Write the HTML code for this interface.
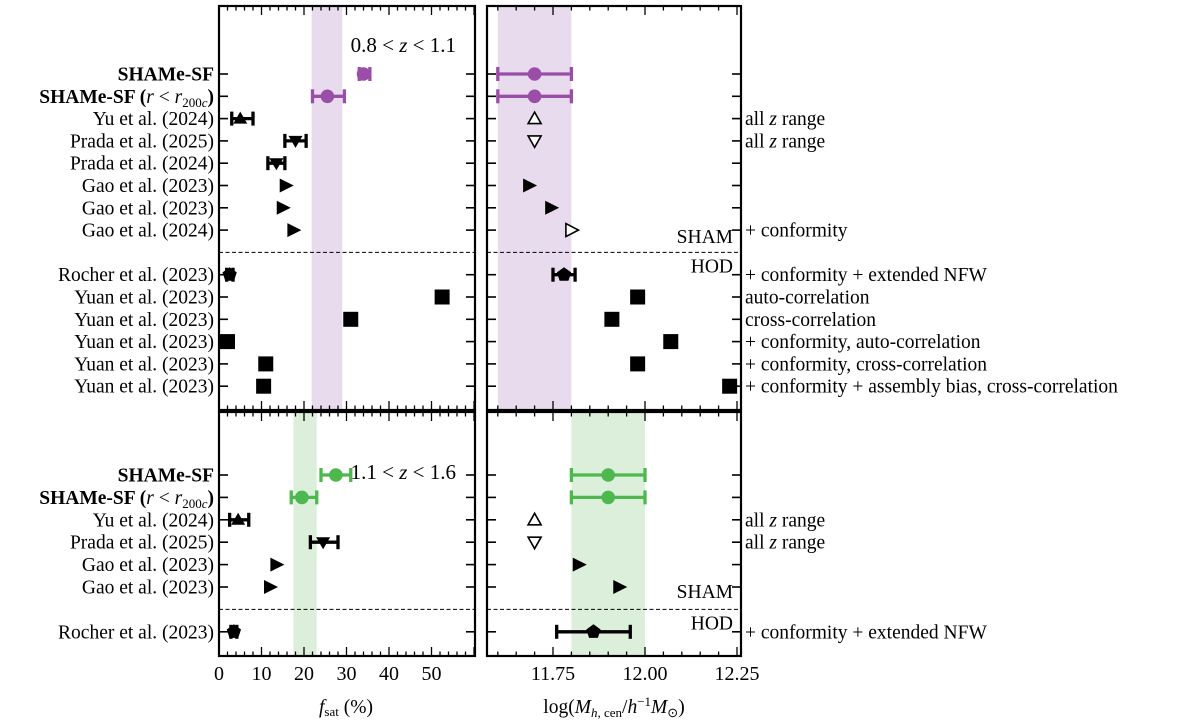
<!DOCTYPE html>
<html><head><meta charset="utf-8"><style>
html,body{margin:0;padding:0;background:#fff;}
svg{display:block;font-family:"Liberation Serif",serif;}
text{font-family:"Liberation Serif",serif;}
</style></head><body>
<svg id="c" width="1200" height="726" viewBox="0 0 1200 726" xmlns="http://www.w3.org/2000/svg">
<g id="bands"></g><g id="axes"></g><g id="marks"></g><g id="labels"></g>
</svg>
<script>
// ---- data ----
const topLabels = ["SHAMe-SF","SHAMe-SF (r<r200c)","Yu et al. (2024)","Prada et al. (2025)","Prada et al. (2024)","Gao et al. (2023)","Gao et al. (2023)","Gao et al. (2024)","","Rocher et al. (2023)","Yuan et al. (2023)","Yuan et al. (2023)","Yuan et al. (2023)","Yuan et al. (2023)","Yuan et al. (2023)"];
const topMarkers = ["o","o","^","v","v",">",">",">o","","p","s","s","s","s","s"];
const topFsat = [34,25.5,5,18,13.5,15.7,15,17.5,null,2.5,52.5,31,2,11,10.5];
const topFsatLo = [33,22,3,15.5,11.5,null,null,null,null,1.8,null,null,null,null,null];
const topFsatHi = [35.5,29.5,8,20.5,15.5,null,null,null,null,3.3,null,null,null,null,null];
const topMass = [11.70,11.70,11.70,11.70,null,11.685,11.745,11.80,null,11.78,11.98,11.91,12.07,11.98,12.23];
const topMassLo = [11.60,11.60,null,null,null,null,null,null,null,11.75,null,null,null,null,null];
const topMassHi = [11.80,11.80,null,null,null,null,null,null,null,11.81,null,null,null,null,null];
const topNotes = ["","","all z range","all z range","","","","+ conformity","","+ conformity + extended NFW","auto-correlation","cross-correlation","+ conformity, auto-correlation","+ conformity, cross-correlation","+ conformity + assembly bias, cross-correlation"];
const botLabels = ["SHAMe-SF","SHAMe-SF (r<r200c)","Yu et al. (2024)","Prada et al. (2025)","Gao et al. (2023)","Gao et al. (2023)","","Rocher et al. (2023)"];
const botMarkers = ["o","o","^","v",">",">","","p"];
const botFsat = [27.5,19.5,4.5,24.5,13.5,12,null,3.5];
const botFsatLo = [24,17,2.5,21.5,null,null,null,2.8];
const botFsatHi = [31,23,7,28,null,null,null,4.2];
const botMass = [11.90,11.90,11.70,11.70,11.82,11.93,null,11.86];
const botMassLo = [11.80,11.80,null,null,null,null,null,11.76];
const botMassHi = [12.00,12.00,null,null,null,null,null,11.96];
const botNotes = ["","","all z range","all z range","","","","+ conformity + extended NFW"];
const fTicks = [0,10,20,30,40,50];
const mTicks = ["11.75","12.00","12.25"];
const topBandF = [21.8,29]; const topBandM = [11.60,11.80];
const botBandF = [17.5,23]; const botBandM = [11.80,12.00];

// ---- scales ----
const FL=219, FR=475, ML=487, MR=741;
const fx = v => FL + v*4.25;
const mx = v => 553 + (v-11.75)*368;
const TT=6, TB=410, BT=412, BB=656;
const rowTop = i => 74 + 22.3*i;
const rowBot = i => 475 + 22.4*i;
const NS="http://www.w3.org/2000/svg";
function el(tag, attrs, parent){const e=document.createElementNS(NS,tag);for(const k in attrs)e.setAttribute(k,attrs[k]);parent.appendChild(e);return e;}
const gB=document.getElementById('bands'),gA=document.getElementById('axes'),gM=document.getElementById('marks'),gL=document.getElementById('labels');

function band(x1,x2,y1,y2,col,name){const r=el('rect',{x:x1,y:y1,width:x2-x1,height:y2-y1,fill:col},gB);

}
band(fx(topBandF[0]),fx(topBandF[1]),TT,TB,'#e8dbed','top-fsat-band');
band(mx(topBandM[0]),mx(topBandM[1]),TT,TB,'#e8dbed','top-mass-band');
band(fx(botBandF[0]),fx(botBandF[1]),BT,BB,'#dbefdb','bottom-fsat-band');
band(mx(botBandM[0]),mx(botBandM[1]),BT,BB,'#dbefdb','bottom-mass-band');

function panel(x1,x2,y1,y2,isF,nRows,rowFn,dashIdx,name){
  const r=el('rect',{x:x1,y:y1,width:x2-x1,height:y2-y1,fill:'none',stroke:'#000','stroke-width':2.2},gA);
  
  
  if(isF){for(let v=0;v<=60;v+=2){const x=fx(v);if(x>x2-1)continue;const L=(v%10===0)?9:4.5;
    el('line',{x1:x,x2:x,y1:y2,y2:y2-L,stroke:'#000','stroke-width':1.3},gA);el('line',{x1:x,x2:x,y1:y1,y2:y1+L,stroke:'#000','stroke-width':1.3},gA);}}
  else{for(let k=0;k<=14;k++){const v=11.6+k*0.05;const x=mx(v);if(x<x1+1||x>x2+1)continue;const major=Math.abs((v-11.75)/0.25-Math.round((v-11.75)/0.25))<1e-6;const L=major?9:4.5;
    el('line',{x1:x,x2:x,y1:y2,y2:y2-L,stroke:'#000','stroke-width':1.3},gA);el('line',{x1:x,x2:x,y1:y1,y2:y1+L,stroke:'#000','stroke-width':1.3},gA);}}
  for(let i=0;i<nRows;i++){if(i===dashIdx)continue;const y=rowFn(i);
    el('line',{x1:x1,x2:x1+9,y1:y,y2:y,stroke:'#000','stroke-width':1.6},gA);el('line',{x1:x2-9,x2:x2,y1:y,y2:y,stroke:'#000','stroke-width':1.6},gA);}
  const d=el('line',{x1:x1,x2:x2,y1:rowFn(dashIdx),y2:rowFn(dashIdx),stroke:'#000','stroke-width':1,'stroke-dasharray':'4,2.5'},gA);
  
  
}
panel(FL,FR,TT,TB,true,15,rowTop,8,'top-fsat-panel');
panel(ML,MR,TT,TB,false,15,rowTop,8,'top-mass-panel');
panel(FL,FR,BT,BB,true,8,rowBot,6,'bottom-fsat-panel');
panel(ML,MR,BT,BB,false,8,rowBot,6,'bottom-mass-panel');

function marker(type,x,y,color,name){
  let s; const fill=color;
  if(type==='o') s=el('circle',{cx:x,cy:y,r:6.8,fill:fill},gM);
  else if(type==='^') s=el('polygon',{points:`${x},${y-7} ${x-7},${y+5} ${x+7},${y+5}`,fill:fill},gM);
  else if(type==='v') s=el('polygon',{points:`${x},${y+7} ${x-7},${y-5} ${x+7},${y-5}`,fill:fill},gM);
  else if(type==='^o') s=el('polygon',{points:`${x},${y-6.5} ${x-6.5},${y+5} ${x+6.5},${y+5}`,fill:'#fff',stroke:'#000','stroke-width':1.6},gM);
  else if(type==='vo') s=el('polygon',{points:`${x},${y+6.5} ${x-6.5},${y-5} ${x+6.5},${y-5}`,fill:'#fff',stroke:'#000','stroke-width':1.6},gM);
  else if(type==='>') s=el('polygon',{points:`${x+8},${y} ${x-6},${y-7} ${x-6},${y+7}`,fill:fill},gM);
  else if(type==='>o') s=el('polygon',{points:`${x+7},${y} ${x-5.5},${y-6.5} ${x-5.5},${y+6.5}`,fill:'#fff',stroke:'#000','stroke-width':1.6},gM);
  else if(type==='p'){const pts=[];for(let k=0;k<5;k++){const a=-Math.PI/2+k*2*Math.PI/5;pts.push((x+7.5*Math.cos(a))+','+(y+7.5*Math.sin(a)));}s=el('polygon',{points:pts.join(' '),fill:fill},gM);}
  else if(type==='s') s=el('rect',{x:x-7.5,y:y-7.5,width:15,height:15,fill:fill},gM);
  
  
}
function errbar(x1,x2,y,color,name){
  const g=el('g',{stroke:color,'stroke-width':3.3},gM);
  
  
  el('line',{x1:x1,x2:x2,y1:y,y2:y},g);el('line',{x1:x1,x2:x1,y1:y-7,y2:y+7},g);el('line',{x1:x2,x2:x2,y1:y-7,y2:y+7},g);
}
function series(labels,markers,fs,fsLo,fsHi,ms,msLo,msHi,rowFn,color,pre){
  for(let i=0;i<labels.length;i++){
    if(!markers[i])continue;const y=rowFn(i);const c=(i<2)?color:'#000';
    if(fs[i]!==null){if(fsLo[i]!==null)errbar(fx(fsLo[i]),fx(fsHi[i]),y,c,pre+'-fsat-errorbar-'+i);
      const mt=markers[i]==='>o'?'>':markers[i];marker(mt,fx(fs[i]),y,c,pre+'-fsat-point-'+i);}
    if(ms[i]!==null){if(msLo[i]!==null)errbar(mx(msLo[i]),mx(msHi[i]),y,c,pre+'-mass-errorbar-'+i);
      let mt=markers[i]; if((mt==='^'||mt==='v')&&(labels[i].indexOf('Prada')>=0||labels[i].indexOf('Yu')>=0)) mt=mt+'o';
      marker(mt,mx(ms[i]),y,c,pre+'-mass-point-'+i);}
  }
}
series(topLabels,topMarkers,topFsat,topFsatLo,topFsatHi,topMass,topMassLo,topMassHi,rowTop,'#9b4ea8','top');
series(botLabels,botMarkers,botFsat,botFsatLo,botFsatHi,botMass,botMassLo,botMassHi,rowBot,'#4db84d','bottom');

function txt(s,x,y,anchor,size,name,weight){const t=el('text',{x:x,y:y,'text-anchor':anchor,'font-size':size,fill:'#000','font-family':'Liberation Serif, serif'},gL);if(weight)t.setAttribute('font-weight',weight);t.textContent=s;
  
  return t;}
function rowLabel(s,y,name){
  if(s==='SHAMe-SF'){txt(s,214,y+6.5,'end',19.5,name,'bold');return;}
  if(s.indexOf('r<')>=0){const t=el('text',{x:214,y:y+6.5,'text-anchor':'end','font-size':19.5,'font-family':'Liberation Serif, serif'},gL);
    
    
    t.innerHTML='<tspan font-weight="bold">SHAMe-SF (</tspan><tspan font-style="italic">r</tspan> &lt; <tspan font-style="italic">r</tspan><tspan font-size="13" dy="4">200<tspan font-style="italic">c</tspan></tspan><tspan dy="-4" font-weight="bold">)</tspan>';return;}
  txt(s,214,y+6.5,'end',19.5,name);
}
topLabels.forEach((s,i)=>{if(s)rowLabel(s,rowTop(i),'top-row-label-'+i);});
botLabels.forEach((s,i)=>{if(s)rowLabel(s,rowBot(i),'bottom-row-label-'+i);});
function note(s,y,name){if(!s)return;const t=el('text',{x:745,y:y+6.5,'font-size':19.5,'font-family':'Liberation Serif, serif'},gL);
  
  
  if(s==='all z range')t.innerHTML='all <tspan font-style="italic">z</tspan> range';else t.textContent=s;}
topNotes.forEach((s,i)=>note(s,rowTop(i),'top-note-'+i));
botNotes.forEach((s,i)=>note(s,rowBot(i),'bottom-note-'+i));
txt('SHAM',733,rowTop(7)+13,'end',19.5,'top-sham-label');
txt('HOD',733,rowTop(8)+20,'end',19.5,'top-hod-label');
txt('SHAM',733,rowBot(5)+11,'end',19.5,'bottom-sham-label');
txt('HOD',733,rowBot(6)+20,'end',19.5,'bottom-hod-label');
const z1=el('text',{x:456,y:52,'text-anchor':'end','font-size':21,'font-family':'Liberation Serif, serif'},gL);z1.innerHTML='0.8 &lt; <tspan font-style="italic">z</tspan> &lt; 1.1';


const z2=el('text',{x:456,y:479,'text-anchor':'end','font-size':21,'font-family':'Liberation Serif, serif'},gL);z2.innerHTML='1.1 &lt; <tspan font-style="italic">z</tspan> &lt; 1.6';


fTicks.forEach((v,i)=>txt(String(v),fx(v),680,'middle',20,'fsat-tick-'+i));
mTicks.forEach((v,i)=>txt(v,mx(parseFloat(v)),680,'middle',20,'mass-tick-'+i));
const xl=el('text',{x:346,y:713,'text-anchor':'middle','font-size':19.5,'font-family':'Liberation Serif, serif'},gL);
xl.innerHTML='<tspan font-style="italic">f</tspan><tspan font-size="13" dy="3">sat</tspan><tspan dy="-3"> (%)</tspan>';


const xr=el('text',{x:614,y:713,'text-anchor':'middle','font-size':19.5,'font-family':'Liberation Serif, serif'},gL);
xr.innerHTML='log(<tspan font-style="italic">M</tspan><tspan font-size="13" dy="4"><tspan font-style="italic">h</tspan>, cen</tspan><tspan dy="-4">/</tspan><tspan font-style="italic">h</tspan><tspan font-size="13" dy="-7">−1</tspan><tspan dy="7" font-style="italic">M</tspan><tspan font-size="13" dy="4">⊙</tspan><tspan dy="-4">)</tspan>';


</script>
</body></html>
